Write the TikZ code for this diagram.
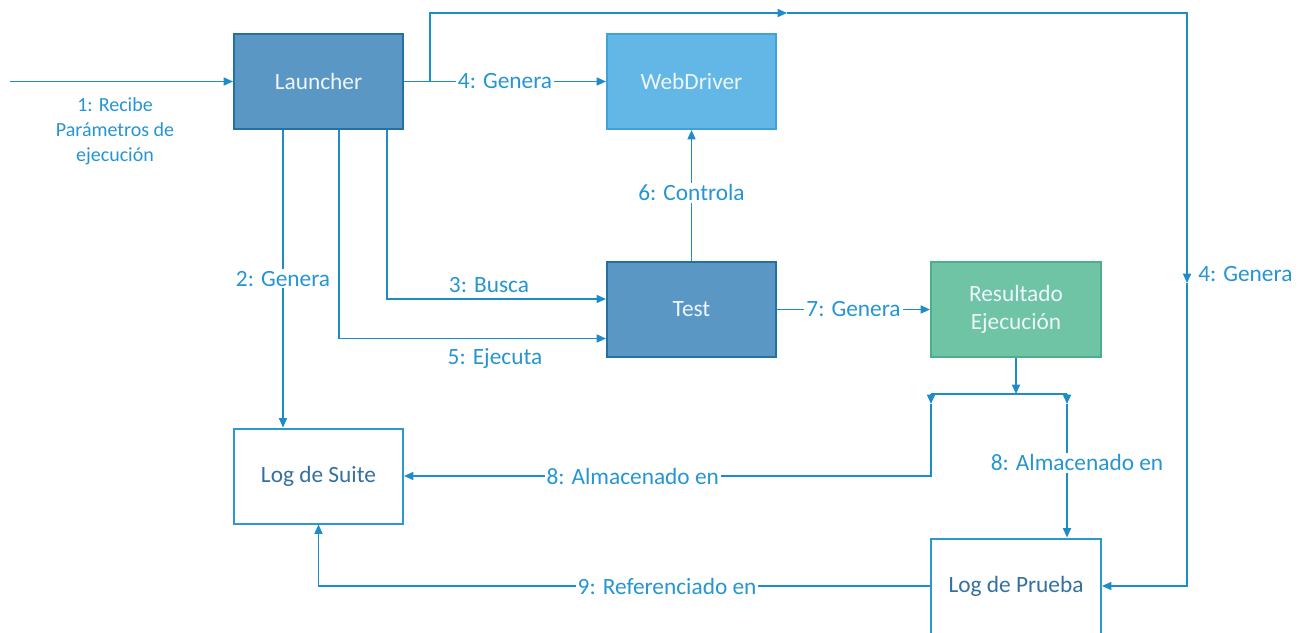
\documentclass[tikz,border=0pt]{standalone}
\usepackage{fontspec}
\setmainfont{Carlito}
\usetikzlibrary{arrows.meta,calc}

\definecolor{wire}{HTML}{1E8CC8}
\definecolor{labeltext}{HTML}{2696D2}
\definecolor{darkfill}{HTML}{5B97C4}
\definecolor{darkedge}{HTML}{2570A3}
\definecolor{lightfill}{HTML}{63B7E6}
\definecolor{lightedge}{HTML}{3FA3DA}
\definecolor{greenfill}{HTML}{6FC4A6}
\definecolor{greenedge}{HTML}{4DAF8A}
\definecolor{plainedge}{HTML}{2C97D1}
\definecolor{plaintext}{HTML}{35709E}
\definecolor{boxtext}{HTML}{EEF6FB}

\begin{document}
\begin{tikzpicture}[x=0.75pt, y=-0.75pt,
  box/.style={rectangle, line width=1.5pt, inner sep=0pt,
    minimum width=126.75pt, minimum height=71.25pt, align=center,
    font=\fontsize{17.5}{20.5}\selectfont},
  darkbox/.style={box, draw=darkedge, fill=darkfill, text=boxtext},
  lightbox/.style={box, draw=lightedge, fill=lightfill, text=boxtext},
  greenbox/.style={box, draw=greenedge, fill=greenfill, text=boxtext},
  plainbox/.style={box, draw=plainedge, fill=white, text=plaintext},
  wire/.style={draw=wire, line width=1.2pt},
  tip/.style={-{Triangle[length=7pt,width=6pt]}},
  lbl/.style={fill=white, text=labeltext, inner sep=1.5pt,
    font=\fontsize{17.5}{20.5}\selectfont},
  freelbl/.style={text=labeltext, inner sep=0pt,
    font=\fontsize{17.5}{20.5}\selectfont}]

\clip (0,0) rectangle (1309,632);
\fill[white] (0,0) rectangle (1309,632);

% boxes
\node[darkbox] (launcher) at (318.5,81.5) {Launcher};
\node[lightbox] (webdriver) at (691.5,81.5) {WebDriver};
\node[darkbox] (test) at (691.5,309.5) {Test};
\node[greenbox, minimum width=127.5pt] (result) at (1016,309.5) {Resultado\\Ejecución};
\node[plainbox] (logsuite) at (318.5,476) {Log de Suite};
\node[plainbox, minimum width=127.5pt] (logprueba) at (1016,586) {Log de Prueba};

% helper points
\coordinate (in) at (10,81.5);
\coordinate (fork) at (430,81.5);
\coordinate (topmid) at (787,13);
\coordinate (rightmid) at (1187,283);
\coordinate (split) at (1016,394);
\coordinate (splitL) at (931,394);
\coordinate (splitR) at (1067,394);
\coordinate (tipL) at (931,404);
\coordinate (tipR) at (1067,404);

% 1: input parameters
\draw[wire, tip] (in) -- (launcher.west);
\node[text=labeltext, align=center, font=\fontsize{15}{18.75}\selectfont]
  (lbl1) at (115,131) {1: Recibe\\Parámetros de\\ejecución};

% 4: WebDriver and test log
\draw[wire, tip] (launcher.east) -- node[lbl] {4: Genera} (webdriver.west);
\draw[wire, tip] (fork) |- (topmid);
\draw[wire, tip] (topmid) -| (rightmid);
\draw[wire, tip] (rightmid) |- (logprueba.east);
\node[freelbl, anchor=west] (lbl4b) at (1198,274) {4: Genera};

% 2: suite log
\draw[wire, tip] ($(launcher.south)+(-35.5,0)$) coordinate (d2)
  -- node[lbl] {2: Genera} (d2 |- logsuite.north);

% 3: search test
\draw[wire, tip] ($(launcher.south)+(68.5,0)$) |- ($(test.west)+(0,-10.5)$);
\node[freelbl] (lbl3) at (489,285) {3: Busca};

% 5: run test
\draw[wire, tip] ($(launcher.south)+(20.5,0)$) |- ($(test.west)+(0,29)$);
\node[freelbl] (lbl5) at (495,358) {5: Ejecuta};

% 6: test controls WebDriver
\draw[wire, tip] (test.north) -- node[lbl, pos=0.52] {6: Controla} (webdriver.south);

% 7: result
\draw[wire, tip] (test.east) -- node[lbl] {7: Genera} (result.west);

% 8: result stored in both logs
\draw[wire, tip] (result.south) -- (split);
\draw[wire] (splitL) -- (splitR);
\draw[wire, tip] (splitL) -- (tipL);
\draw[wire, tip] (splitR) -- (tipR);
\draw[wire, tip] (tipL) |- node[lbl, pos=0.783] {8: Almacenado en} (logsuite.east);
\draw[wire, tip] (tipR) -- node[lbl, pos=0.44, xshift=7.5pt] {8: Almacenado en} (tipR |- logprueba.north);

% 9: test log referenced in suite log
\draw[wire, tip] (logprueba.west) -| node[lbl, pos=0.215] {9: Referenciado en} (logsuite.south);

\end{tikzpicture}
\end{document}
